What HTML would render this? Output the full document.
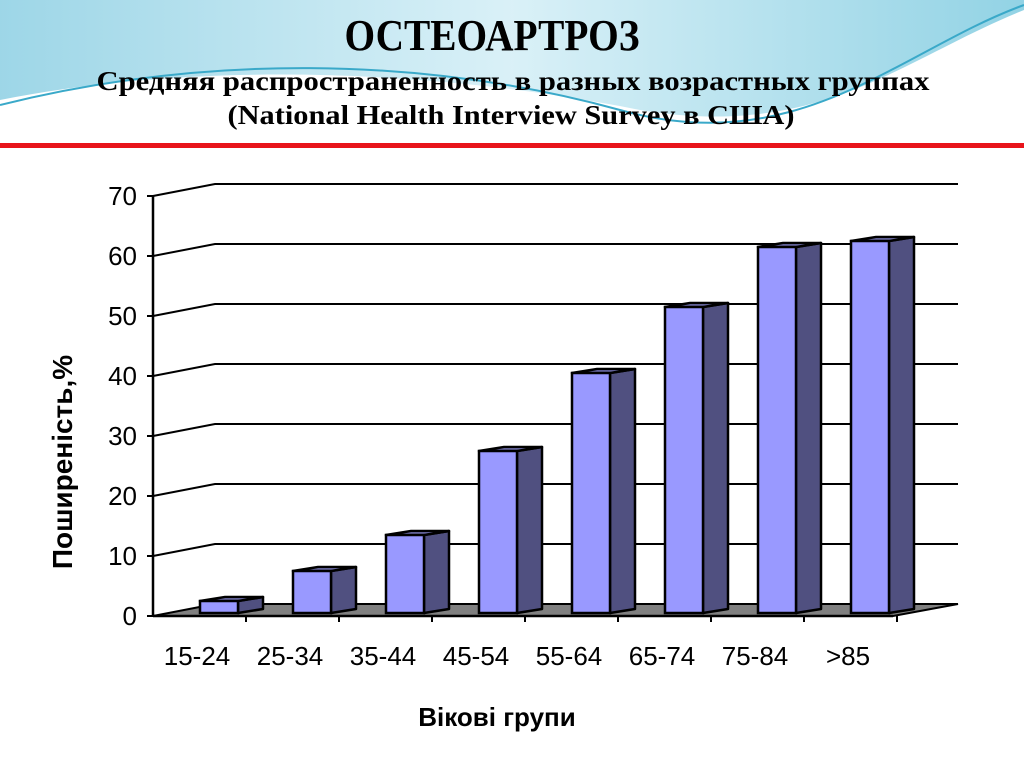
<!DOCTYPE html>
<html><head><meta charset="utf-8"><style>
body{margin:0;width:1024px;height:767px;overflow:hidden;background:#fff;font-family:"Liberation Sans",sans-serif}
</style></head><body>
<svg width="1024" height="767" viewBox="0 0 1024 767">
<defs><linearGradient id="bg" x1="0" y1="0" x2="1" y2="0"><stop offset="0" stop-color="#8ccfe3"/><stop offset="0.5" stop-color="#d3eef6"/><stop offset="1" stop-color="#7fcbe0"/></linearGradient></defs>
<g>
<path d="M0 0 H1024 V10 C900 60 820 140 640 110 C440 70 200 60 0 100 Z" fill="url(#bg)" opacity="0.85"/>
<path d="M0 105 C200 55 420 55 620 110 C800 160 900 50 1024 5" stroke="#3aa9c9" stroke-width="2" fill="none"/>
</g>
<text x="492" y="50" text-anchor="middle" font-family="Liberation Serif,serif" font-weight="bold" font-size="44" textLength="295" lengthAdjust="spacingAndGlyphs">ОСТЕОАРТРОЗ</text>
<text x="513" y="90" text-anchor="middle" font-family="Liberation Serif,serif" font-weight="bold" font-size="27" textLength="833" lengthAdjust="spacingAndGlyphs">Средняя распространенность в разных возрастных группах</text>
<text x="511" y="124" text-anchor="middle" font-family="Liberation Serif,serif" font-weight="bold" font-size="27" textLength="567" lengthAdjust="spacingAndGlyphs">(National Health Interview Survey в США)</text>
<rect x="0" y="143" width="1024" height="5" fill="#e8141b"/>
<g id="chart"></g>
<text x="72" y="462" transform="rotate(-90 72 462)" text-anchor="middle" font-weight="bold" font-size="28">Поширеність,%</text>
<text x="497" y="726" text-anchor="middle" font-weight="bold" font-size="26">Вікові групи</text>
</svg>
<script>
const categories=["15-24","25-34","35-44","45-54","55-64","65-74","75-84",">85"];
const values=[2,7,13,27,40,51,61,62];
const ticks=[0,10,20,30,40,50,60,70];
const NS="http://www.w3.org/2000/svg";
const g=document.getElementById('chart');
const x0=153,y0=616,pu=6,dx=62,dy=12,xEnd=958,step=93,bx0=200,bw=38,sd=25,sdy=4;
const Y=v=>y0-v*pu;
function mk(t,a,p){const e=document.createElementNS(NS,t);for(const k in a)e.setAttribute(k,a[k]);(p||g).appendChild(e);return e;}
let fl=mk('polygon',{points:`${x0},${y0} ${x0+dx},${y0-dy} ${xEnd},${y0-dy} ${893},${y0}`,fill:'#808080',stroke:'#000','stroke-width':2});


ticks.forEach(t=>{
 if(t>0){let l=mk('polyline',{points:`${x0},${Y(t)} ${x0+dx},${Y(t)-dy} ${xEnd},${Y(t)-dy}`,fill:'none',stroke:'#000','stroke-width':2});
 
 }
 let tx=mk('text',{x:x0-16,y:Y(t)+9,'text-anchor':'end','font-size':26});tx.textContent=t;
 
 
 mk('line',{x1:x0-6,y1:Y(t),x2:x0,y2:Y(t),stroke:'#000','stroke-width':2});
});
mk('line',{x1:x0,y1:Y(70),x2:x0,y2:y0,stroke:'#000','stroke-width':2.5});
mk('line',{x1:x0,y1:y0,x2:893,y2:y0,stroke:'#000','stroke-width':2.5});
categories.forEach((c,i)=>{
 const bx=bx0+i*step,base=613,top=base-values[i]*pu;
 const bg=mk('g',{});
 
 
 mk('polygon',{points:`${bx+bw},${top} ${bx+bw+sd},${top-sdy} ${bx+bw+sd},${base-sdy} ${bx+bw},${base}`,fill:'#505080',stroke:'#000','stroke-width':2.5,'stroke-linejoin':'round'},bg);
 mk('polygon',{points:`${bx},${top} ${bx+sd},${top-sdy} ${bx+bw+sd},${top-sdy} ${bx+bw},${top}`,fill:'#8080c8',stroke:'#000','stroke-width':2.5,'stroke-linejoin':'round'},bg);
 mk('rect',{x:bx,y:top,width:bw,height:base-top,fill:'#9999ff',stroke:'#000','stroke-width':2.5},bg);
 mk('line',{x1:x0+(i+1)*step,y1:y0,x2:x0+(i+1)*step,y2:y0+6,stroke:'#000','stroke-width':2});
 let t=mk('text',{x:bx-3,y:665,'text-anchor':'middle','font-size':26});t.textContent=c;
 
 
});
</script>
</body></html>
